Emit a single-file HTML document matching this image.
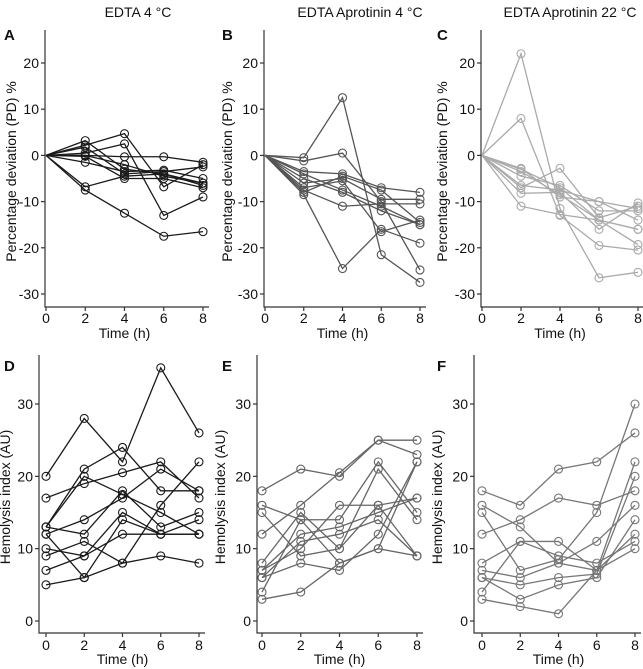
<!DOCTYPE html>
<html><head><meta charset="utf-8"><style>
body{margin:0;background:#fff}
svg{display:block;font-family:"Liberation Sans",sans-serif}
</style></head><body>
<svg id="c" width="643" height="669" viewBox="0 0 643 669"></svg>
<script>
const times=[0,2,4,6,8];
const pdTicks=[20,10,0,-10,-20,-30];
const hiTicks=[30,20,10,0];
const xTicks=[0,2,4,6,8];
const seriesA=[[0,3.2,-3,-4,-6],[0,2.2,4.7,-6.8,-2],[0,0.5,2.5,-13,-9],[0,-7.5,-12.5,-17.5,-16.5],[0,-6.8,-4.5,-4,-6.5],[0,0,-0.3,-0.3,-1.5],[0,-1.5,-3.5,-3.2,-5],[0,-0.2,-5,-5,-7],[0,1.8,-4,-3.5,-2.5],[0,0,-2,-4.5,-6]];
const seriesB=[[0,-0.5,12.5,-21.5,-27.5],[0,-8.5,-24.5,-16,-19],[0,-1.2,0.5,-10,-24.8],[0,-3.5,-4,-7,-8],[0,-6,-5,-9.5,-9.5],[0,-7.5,-11,-10.5,-10.5],[0,-7,-5.5,-16.5,-14],[0,-8,-4.5,-7.5,-14.5],[0,-4,-7.5,-11,-15],[0,-5,-8,-12,-15]];
const seriesC=[[0,22,-11.5,-26.5,-25.3],[0,8,-13,-19.5,-20.5],[0,-3,-7,-14,-16],[0,-2.8,-9,-10,-11.5],[0,-4.5,-6.5,-12,-12],[0,-7,-2.8,-13.5,-11],[0,-8.2,-8,-16,-10.3],[0,-11,-12.8,-14,-19.3],[0,-6.5,-7.5,-10,-14],[0,-3.5,-8.5,-14,-16]];
const seriesD=[[20,28,22,35,26],[13,21,24,18,18],[17,19,20.5,22,17],[13,20,17.5,15,12],[12,14,17,21,18],[12,6,14,12,12],[10,9,15,12,14],[9,11,8,9,8],[7,9,12,12,12],[5,6,8,16,22],[13,12,18,13,15]];
const seriesE=[[18,21,20,25,25],[12,16,20.5,25,23],[16,14,14,22,15],[15,9,10,21,14],[8,15,10,16,17],[7,12,13,15,17],[7,10,16,16,9],[6,11,12,14,9],[6,8,7,12,22],[4,14,8,10,22],[3,4,8,10,9]];
const seriesF=[[18,16,21,22,26],[12,14,17,16,18],[16,13,8,7,12],[15,7,8.5,15,30],[8,11,11,7,10],[7,6,8,11,16],[6,5,6,6.5,20],[4,11,9,8,11],[6,3,5,6,14],[3,2,1,7,22]];

const svg=document.getElementById('c');
const NS='http://www.w3.org/2000/svg';
function mk(tag,attrs,parent){const e=document.createElementNS(NS,tag);for(const k in attrs)e.setAttribute(k,attrs[k]);(parent||svg).appendChild(e);return e;}
function txt(s,x,y,opt,parent){const e=mk('text',Object.assign({x:x,y:y,'font-size':14,fill:'#111'},opt||{}),parent);e.textContent=s;return e;}

const panels=[
 {id:'a',letter:'A',title:'EDTA 4 °C',tx:138,data:seriesA,col:'#1a1a1a',axX:45,x0:46,x8:203,yTop:30,yBot:307,vTop:20,pTop:63,vBot:-30,pBot:294,ticks:pdTicks,yt:'Percentage deviation (PD) %',ytX:16,lx:4,ly:40,tickY:323,tlY:338},
 {id:'b',letter:'B',title:'EDTA Aprotinin 4 °C',tx:360,data:seriesB,col:'#555',axX:264,x0:265,x8:420,yTop:30,yBot:307,vTop:20,pTop:63,vBot:-30,pBot:294,ticks:pdTicks,yt:'Percentage deviation (PD) %',ytX:232,lx:222,ly:40,tickY:323,tlY:338},
 {id:'c',letter:'C',title:'EDTA Aprotinin 22 °C',tx:570,data:seriesC,col:'#aaa',axX:481,x0:482,x8:638,yTop:30,yBot:307,vTop:20,pTop:63,vBot:-30,pBot:294,ticks:pdTicks,yt:'Percentage deviation (PD) %',ytX:447,lx:437,ly:40,tickY:323,tlY:338},
 {id:'d',letter:'D',title:'',data:seriesD,col:'#1a1a1a',axX:39,x0:46,x8:199,yTop:355,yBot:633,vTop:30,pTop:404,vBot:0,pBot:621,ticks:hiTicks,yt:'Hemolysis index (AU)',ytX:10,lx:4,ly:371,tickY:650,tlY:664},
 {id:'e',letter:'E',title:'',data:seriesE,col:'#666',axX:257,x0:262,x8:417,yTop:355,yBot:633,vTop:30,pTop:404,vBot:0,pBot:621,ticks:hiTicks,yt:'Hemolysis index (AU)',ytX:225,lx:222,ly:371,tickY:650,tlY:664},
 {id:'f',letter:'F',title:'',data:seriesF,col:'#777',axX:474,x0:482,x8:635,yTop:355,yBot:633,vTop:30,pTop:404,vBot:0,pBot:621,ticks:hiTicks,yt:'Hemolysis index (AU)',ytX:442,lx:437,ly:371,tickY:650,tlY:664}
];

panels.forEach(p=>{
 const g=mk('g',{});
 
 
 const X=t=>p.x0+(t-0)*(p.x8-p.x0)/8;
 const Y=v=>p.pTop+(v-p.vTop)*(p.pBot-p.pTop)/(p.vBot-p.vTop);
 if(p.title){const t=txt(p.title,p.tx,17,{'text-anchor':'middle','font-size':14},g);
  
  }
 const L=txt(p.letter,p.lx,p.ly,{'font-weight':'bold','font-size':15},g);
 
 
 const ax=mk('path',{d:`M${p.axX},${p.yTop}V${p.yBot}H${p.x8+6}`,fill:'none',stroke:'#333','stroke-width':1.2},g);
 
 
 p.ticks.forEach(v=>{
  mk('line',{x1:p.axX-4,x2:p.axX,y1:Y(v),y2:Y(v),stroke:'#333','stroke-width':1.2},g);
  const t=txt(String(v),p.axX-6,Y(v)+5,{'text-anchor':'end','font-size':14},g);
  
  
 });
 xTicks.forEach(v=>{
  mk('line',{x1:X(v),x2:X(v),y1:p.yBot,y2:p.yBot+4,stroke:'#333','stroke-width':1.2},g);
  const t=txt(String(v),X(v),p.tickY,{'text-anchor':'middle','font-size':14},g);
  
  
 });
 const xt=txt('Time (h)',(p.x0+p.x8)/2,p.tlY,{'text-anchor':'middle','font-size':14},g);
 
 
 const cy=(p.yTop+p.yBot)/2+8;
 const yt=txt(p.yt,p.ytX+5,cy,{'text-anchor':'middle','font-size':14,transform:`rotate(-90 ${p.ytX} ${cy})`},g);
 
 
 p.data.forEach((s,i)=>{
  const pts=s.map((v,j)=>X(times[j])+','+Y(v)).join(' ');
  const pl=mk('polyline',{points:pts,fill:'none',stroke:p.col,'stroke-width':1.3},g);
  
  
  s.forEach((v,j)=>{
   if(p.vTop===20 && j===0) return;
   const c=mk('circle',{cx:X(times[j]),cy:Y(v),r:4,fill:'none',stroke:p.col,'stroke-width':1.1},g);
   
   
  });
 });
});
</script>
</body></html>
